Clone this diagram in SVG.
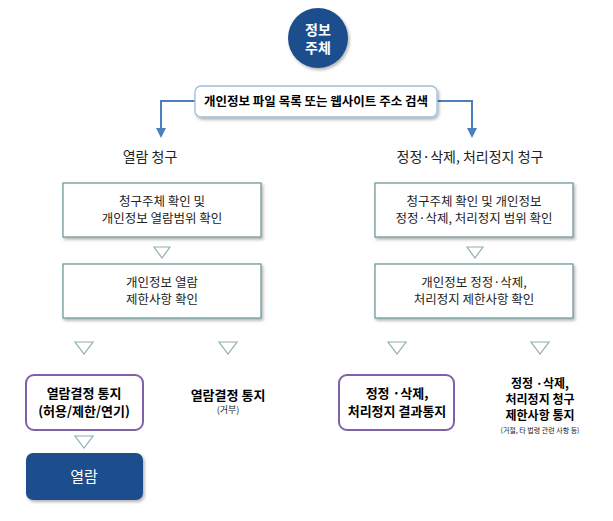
<svg xmlns="http://www.w3.org/2000/svg" width="613" height="521" viewBox="0 0 613 521">
<defs>
<style>
text{font-family:"Noto Sans CJK KR",sans-serif;text-anchor:middle;fill:#222}
.b{font-weight:bold;fill:#000}
.box{fill:#fff;stroke:#6f9a9a;stroke-width:1.3}
.pbox{fill:#fff;stroke:#8060a8;stroke-width:2}
.tri{fill:#fff;stroke:#8fb0b0;stroke-width:1.2}
.n{font-size:12.5px}
</style>
<marker id="ar" viewBox="0 0 10 10" refX="5" refY="5" markerWidth="5" markerHeight="5" orient="auto"><path d="M0,0L10,5L0,10z" fill="#4a7fc0"/></marker>
<filter id="sh" x="-10%" y="-10%" width="130%" height="140%"><feDropShadow dx="1.5" dy="2" stdDeviation="1.5" flood-opacity="0.3"/></filter>
</defs>
<g id="connectors" fill="none" stroke="#4a7fc0" stroke-width="2">
<path d="M195,101H161V133" marker-end="url(#ar)"/>
<path d="M437,101H472V133" marker-end="url(#ar)"/>
</g>
<g id="subject"><circle cx="318" cy="38" r="30" fill="#1f4e8c" filter="url(#sh)"/><text x="318" y="35" font-size="14" class="b" style="fill:#fff">정보</text><text x="318" y="53" font-size="14" class="b" style="fill:#fff">주체</text></g>
<g id="search"><rect x="195" y="86" width="242" height="31" rx="6" fill="#fff" stroke="#9cc0e0" stroke-width="1.3" filter="url(#sh)"/><text x="316" y="106" font-size="12.5" class="b">개인정보 파일 목록 또는 웹사이트 주소 검색</text></g>
<text x="150" y="162" font-size="14">열람 청구</text>
<text x="470" y="162" font-size="14">정정·삭제, 처리정지 청구</text>
<g id="l1"><rect class="box" x="63" y="183" width="198" height="54" filter="url(#sh)"/><text class="n" x="162" y="206">청구주체 확인 및</text><text class="n" x="162" y="223">개인정보 열람범위 확인</text></g>
<g id="l2"><rect class="box" x="63" y="264" width="198" height="54" filter="url(#sh)"/><text class="n" x="162" y="287">개인정보 열람</text><text class="n" x="162" y="304">제한사항 확인</text></g>
<g id="r1"><rect class="box" x="375" y="183" width="198" height="54" filter="url(#sh)"/><text class="n" x="474" y="206">청구주체 확인 및 개인정보</text><text class="n" x="474" y="223">정정·삭제, 처리정지 범위 확인</text></g>
<g id="r2"><rect class="box" x="375" y="264" width="198" height="54" filter="url(#sh)"/><text class="n" x="474" y="287">개인정보 정정·삭제,</text><text class="n" x="474" y="304">처리정지 제한사항 확인</text></g>
<g id="tris">
<path class="tri" d="M154,247H170L162,258z"/>
<path class="tri" d="M467,247H483L475,258z"/>
<path class="tri" d="M75,342H93L84,354z"/>
<path class="tri" d="M219,342H237L228,354z"/>
<path class="tri" d="M388,342H406L397,354z"/>
<path class="tri" d="M531,342H549L540,354z"/>
<path class="tri" d="M75,436H93L84,448z"/>
</g>
<g id="d1"><rect class="pbox" x="26" y="375" width="117" height="55" rx="8"/><text class="b" font-size="13" x="84" y="398">열람결정 통지</text><text class="b" font-size="13" x="84" y="416">(허용/제한/연기)</text></g>
<g id="d2"><text class="b" font-size="13" x="228" y="400">열람결정 통지</text><text font-size="9" x="228" y="413">(거부)</text></g>
<g id="d3"><rect class="pbox" x="339" y="375" width="115" height="55" rx="8"/><text class="b" font-size="13" x="397" y="398">정정 ·삭제,</text><text class="b" font-size="13" x="397" y="416">처리정지 결과통지</text></g>
<g id="d4"><text class="b" font-size="12" x="540" y="388">정정 ·삭제,</text><text class="b" font-size="12" x="540" y="404">처리정지 청구</text><text class="b" font-size="12" x="540" y="420">제한사항 통지</text><text font-size="7" x="540" y="433">(거절, 타 법령 관련 사항 등)</text></g>
<g id="view"><rect x="26" y="453" width="117" height="47" rx="7" fill="#1f4e8c" filter="url(#sh)"/><text x="84" y="482" font-size="15" style="fill:#fff">열람</text></g>
</svg>
